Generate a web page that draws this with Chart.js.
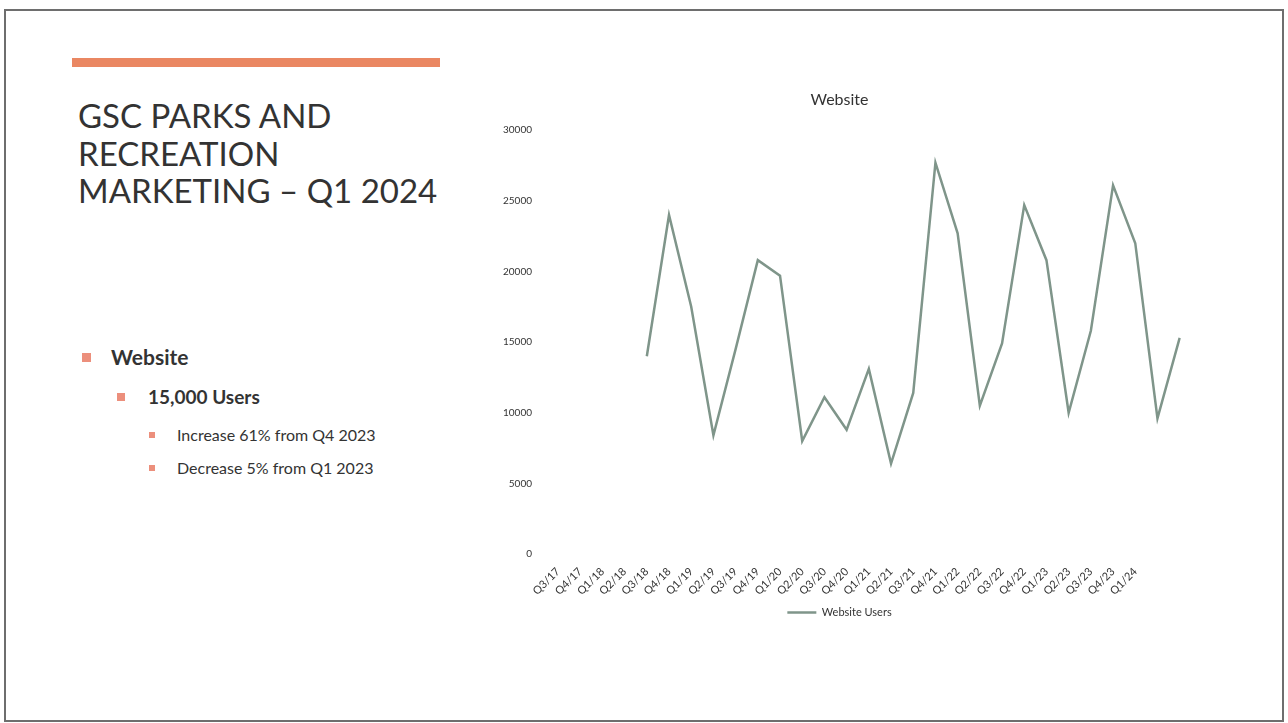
<!DOCTYPE html>
<html>
<head>
<meta charset="utf-8">
<script src="https://cdn.jsdelivr.net/npm/chart.js@4.4.1/dist/chart.umd.min.js"></script>
<style>
    html, body { margin: 0; padding: 0; background: #fff; }
    body { width: 1288px; height: 723px; position: relative; overflow: hidden; font-family: Lato, "Open Sans", sans-serif; color: #333; }
    .frame { position: absolute; left: 4px; top: 9px; width: 1276px; height: 709px; border: 2px solid #6e6e6e; }
    .bar { position: absolute; left: 72px; top: 58px; width: 368px; height: 9px; background: #ea8762; }
    h1 { position: absolute; left: 78px; top: 97px; margin: 0; font-weight: 400; font-size: 33px; line-height: 37.5px; color: #333; }
    .b { position: absolute; white-space: nowrap; }
    .b::before { content: ""; position: absolute; background: #ec8f7c; }
    .l1 { left: 111px; top: 344px; font-size: 21px; font-weight: 700; }
    .l1::before { left: -29px; top: 9px; width: 9px; height: 9px; }
    .l2 { left: 148px; top: 385px; font-size: 19px; font-weight: 700; }
    .l2::before { left: -31px; top: 8px; width: 8px; height: 8px; }
    .l3 { font-size: 16px; left: 177px; }
    .l3::before { left: -28px; top: 7px; width: 6px; height: 6px; }
    #wrap { position: absolute; left: 498px; top: 80px; width: 702px; height: 548px; }
</style>
</head>
<body>
<div class="frame"></div>
<div class="bar"></div>
<h1>GSC PARKS AND<br>RECREATION<br>MARKETING – Q1 2024</h1>
<div class="b l1">Website</div>
<div class="b l2">15,000 Users</div>
<div class="b l3" style="top:425px">Increase 61% from Q4 2023</div>
<div class="b l3" style="top:458px">Decrease 5% from Q1 2023</div>
<div id="wrap"><canvas id="chart"></canvas></div>
<script>
// quarter labels (last two categories have no label in the original)
const quarters = ['Q3/17', 'Q4/17', 'Q1/18', 'Q2/18', 'Q3/18', 'Q4/18', 'Q1/19', 'Q2/19', 'Q3/19', 'Q4/19',
    'Q1/20', 'Q2/20', 'Q3/20', 'Q4/20', 'Q1/21', 'Q2/21', 'Q3/21', 'Q4/21', 'Q1/22', 'Q2/22',
    'Q3/22', 'Q4/22', 'Q1/23', 'Q2/23', 'Q3/23', 'Q4/23', 'Q1/24', '', ''];

// website users per quarter
const websiteUsers = [null, null, null, null, 14000, 24000, 17500, 8400, 14500, 20800,
    19700, 8000, 11100, 8800, 13100, 6400, 11400, 27700, 22700, 10500,
    14900, 24700, 20800, 10000, 15800, 26100, 22000, 9600, 15300];

const yTicks = [0, 5000, 10000, 15000, 20000, 25000, 30000];

const lineColor = '#7f958a';
const txt = '#333';

new Chart(document.getElementById('chart'), {
    type: 'line',
    data: {
        labels: quarters,
        datasets: [{
            label: 'Website Users',
            data: websiteUsers,
            borderColor: lineColor,
            backgroundColor: lineColor,
            borderWidth: 2.5,
            pointRadius: 0,
            tension: 0,
            spanGaps: false
        }]
    },
    options: {
        responsive: true,
        maintainAspectRatio: false,
        animation: false,
        layout: { padding: { left: 0, right: 19, top: 0, bottom: 0 } },
        plugins: {
            title: {
                display: true,
                text: 'Website',
                color: txt,
                font: { family: 'Lato', size: 16, weight: 'normal' },
                padding: { top: 10, bottom: 21 }
            },
            legend: {
                position: 'bottom',
                labels: {
                    color: txt,
                    font: { family: 'Lato', size: 11 },
                    usePointStyle: true,
                    pointStyle: 'line',
                    pointStyleWidth: 29,
                    padding: 10
                }
            },
            tooltip: { enabled: false }
        },
        scales: {
            x: {
                grid: { display: false, drawTicks: false },
                border: { display: false },
                afterFit: (s) => { s.height = 43; },
                ticks: {
                    color: txt,
                    font: { family: 'Lato', size: 11 },
                    minRotation: 45,
                    maxRotation: 45,
                    autoSkip: false,
                    padding: 11
                }
            },
            y: {
                min: 0,
                max: 30000,
                afterFit: (s) => { s.width = 60; },
                afterBuildTicks: (s) => { s.ticks = yTicks.map(v => ({ value: v })); },
                grid: { display: false, drawTicks: false },
                border: { display: false },
                ticks: {
                    color: txt,
                    font: { family: 'Lato', size: 10 },
                    padding: 26,
                    callback: (v) => String(v)
                }
            }
        }
    }
});
</script>
</body>
</html>
